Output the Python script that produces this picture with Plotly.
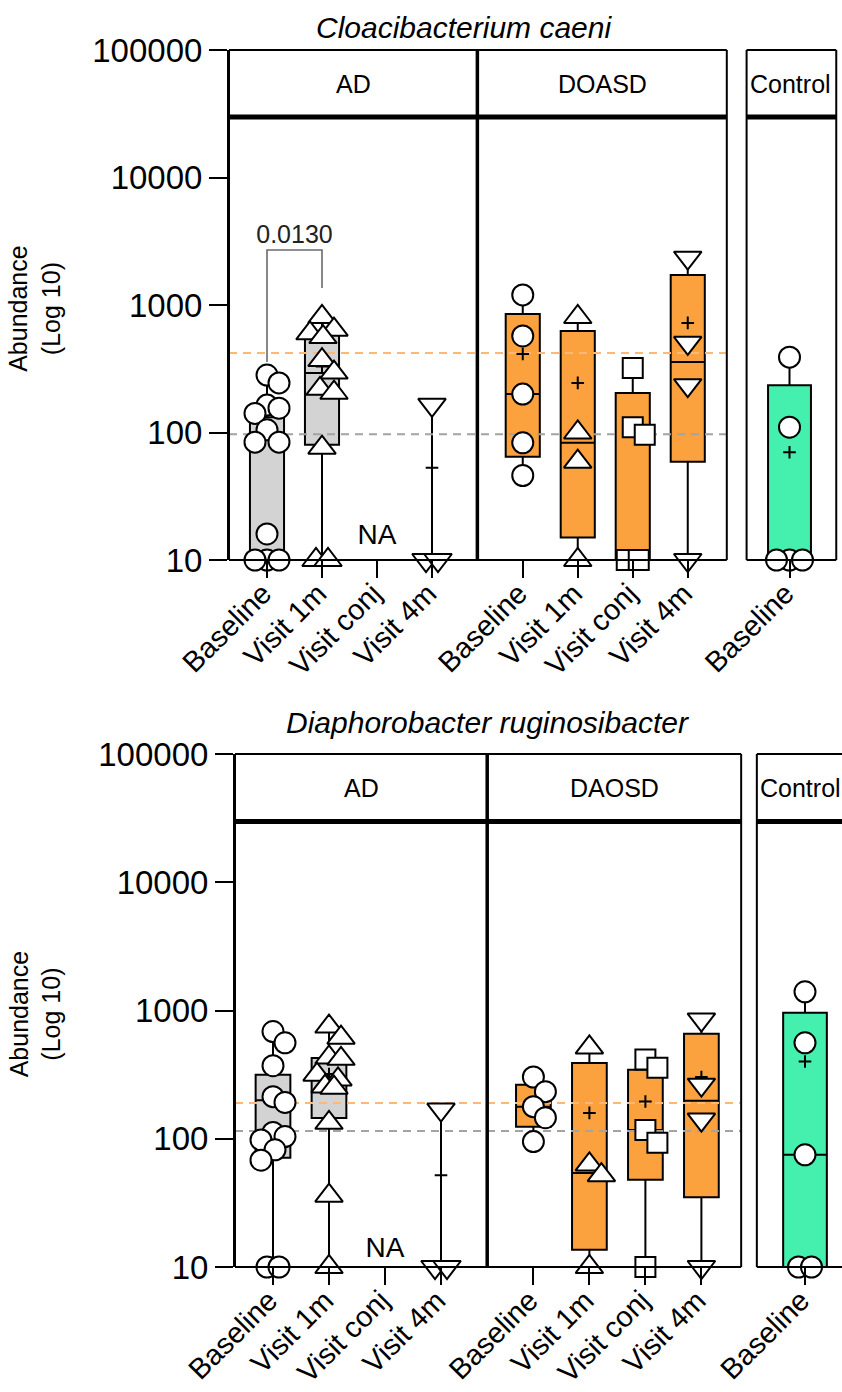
import numpy as np
import plotly.graph_objects as go

W, H = 842, 1392

# ---------------- data ----------------
visit_labels = ["Baseline", "Visit 1m", "Visit conj", "Visit 4m",
                "Baseline", "Visit 1m", "Visit conj", "Visit 4m",
                "Baseline"]
titles = ["Cloacibacterium caeni", "Diaphorobacter ruginosibacter"]
header_labels = [["AD", "DOASD", "Control"], ["AD", "DAOSD", "Control"]]

# Cloacibacterium caeni – individual values per slot (empty = NA)
cc_ad_base = [282, 245, 164, 155, 141, 105, 84, 84, 16, 10, 10, 10]
cc_ad_1m = [806, 640, 600, 560, 370, 295, 220, 205, 76, 10, 10]
cc_ad_conj = []
cc_ad_4m = [165, 10, 10]
cc_do_base = [1200, 572, 200, 83, 46]
cc_do_1m = [805, 100, 59, 10]
cc_do_conj = [321, 110, 96, 10, 10]
cc_do_4m = [2350, 505, 235, 10]
cc_ctrl_base = [390, 110, 10, 10, 10]

cc_q1 = [10, 80, None, 10, 64.5, 15, 10, 59, 10]
cc_median = [95, 293, None, 10, 200, 83, 10, 357, 10]
cc_q3 = [132, 582, None, 10, 850, 625, 204, 1720, 235]
cc_min = [10, 10, None, 10, 46, 10, 10, 10, 10]
cc_max = [282, 806, None, 165, 1200, 805, 321, 2350, 390]
cc_mean = [108, 330, None, 53, 413, 245, 105, 724, 70]
cc_ref_orange = 420
cc_ref_gray = 97
cc_pvalue = "0.0130"

# Diaphorobacter ruginosibacter
dr_ad_base = [685, 560, 371, 213, 192, 112, 104, 98, 82, 68, 10, 10]
dr_ad_1m = [750, 614, 430, 420, 316, 290, 255, 250, 133, 36, 10]
dr_ad_conj = []
dr_ad_4m = [169, 10, 10]
dr_do_base = [303, 233, 178, 146, 95]
dr_do_1m = [515, 63, 52, 10]
dr_do_conj = [415, 357, 117, 93, 10]
dr_do_4m = [850, 264, 141, 10]
dr_ctrl_base = [1400, 560, 75, 10, 10]

dr_q1 = [71, 145, None, 10, 124, 13.6, 48, 35, 10]
dr_median = [200, 300, None, 10, 178, 54, 117, 198, 75]
dr_q3 = [316, 427, None, 10, 264, 390, 345, 660, 960]
dr_min = [10, 10, None, 10, 95, 10, 10, 10, 10]
dr_max = [685, 750, None, 169, 303, 515, 415, 850, 1400]
dr_mean = [200, 320, None, 52, 191, 159, 195, 303, 400]
dr_ref_orange = 190
dr_ref_gray = 115

panels = [
    dict(points=[cc_ad_base, cc_ad_1m, cc_ad_conj, cc_ad_4m, cc_do_base,
                 cc_do_1m, cc_do_conj, cc_do_4m, cc_ctrl_base],
         q1=cc_q1, med=cc_median, q3=cc_q3, lo=cc_min, hi=cc_max, mean=cc_mean,
         ref_o=cc_ref_orange, ref_g=cc_ref_gray, pval=cc_pvalue,
         # layout in pixels
         axis_px=229, x0_px=267, unit=55, ybot=560, ytop=50,
         ctrl_left=8.72, title_xy=(464, 28)),
    dict(points=[dr_ad_base, dr_ad_1m, dr_ad_conj, dr_ad_4m, dr_do_base,
                 dr_do_1m, dr_do_conj, dr_do_4m, dr_ctrl_base],
         q1=dr_q1, med=dr_median, q3=dr_q3, lo=dr_min, hi=dr_max, mean=dr_mean,
         ref_o=dr_ref_orange, ref_g=dr_ref_gray, pval=None,
         axis_px=235, x0_px=273, unit=56, ybot=1267, ytop=754,
         ctrl_left=8.64, title_xy=(487, 722)),
]

# ---------------- styling ----------------
FONT = "Liberation Sans, Arial, sans-serif"
slot_x = [0, 1, 2, 3, 4.65, 5.65, 6.65, 7.65, 9.5]
slot_group = [0, 0, 0, 0, 1, 1, 1, 1, 2]
slot_symbol = ["circle", "triangle-up", "square", "triangle-down",
               "circle", "triangle-up", "square", "triangle-down", "circle"]
symbol_size = {"circle": 21, "triangle-up": 24, "square": 20, "triangle-down": 24}
group_fill = ["#D3D3D3", "#FBA23F", "#45EFAE"]
box_width = [0.62, 0.62, 0.78]
swarm_cap = [12, 12, 13]
SEP_X = 3.825
MAIN_RIGHT = 8.36
CTRL_RIGHT = 10.35
HEADER_LOG = 4.474


def swarm(vals, xc, unit_px, dec_px, diam, cap):
    """Deterministic beeswarm limited to +/-cap pixels; overlaps when crowded."""
    placed, offs = [], []
    mind = diam * 0.92
    cands = sorted(np.arange(-cap, cap + 0.01, 1.0), key=lambda c: (abs(c), -c))
    for v in vals:
        y = np.log10(v) * dec_px
        best, best_d = 0.0, -1.0
        for c in cands:
            d = min([np.hypot(c - px, y - py) for px, py in placed] or [1e9])
            if d >= mind:
                best = c
                break
            if d > best_d + 1e-9:
                best, best_d = c, d
        placed.append((best, y))
        offs.append(best)
    # centre groups of identical values
    vals_arr = np.array(vals, dtype=float)
    offs = np.array(offs)
    for v in np.unique(vals_arr):
        idx = np.where(vals_arr == v)[0]
        if len(idx) > 1:
            offs[idx] -= offs[idx].mean()
    return list(xc + offs / unit_px)


fig = go.Figure()
shapes, annotations = [], []
layout_axes = {}

for pi, P in enumerate(panels):
    xa = "x" if pi == 0 else "x2"
    ya = "y" if pi == 0 else "y2"
    unit = P["unit"]
    dec_px = (P["ybot"] - P["ytop"]) / 4.0
    xr = [(P["axis_px"] - P["x0_px"]) / unit, (W - P["x0_px"]) / unit]
    ydom = [1 - P["ybot"] / H, 1 - P["ytop"] / H]
    left = xr[0]
    ctrl_left = P["ctrl_left"]

    def yp(logv, ydom=ydom):
        return ydom[0] + (logv - 1) / 4.0 * (ydom[1] - ydom[0])

    # reference lines
    for val, col in [(P["ref_o"], "#FFB877"), (P["ref_g"], "#A3A3A3")]:
        fig.add_trace(go.Scatter(x=[left, MAIN_RIGHT], y=[val, val], mode="lines",
                                 line=dict(color=col, width=2, dash="8px,6px"),
                                 xaxis=xa, yaxis=ya, hoverinfo="skip", showlegend=False))

    # boxes and whiskers
    for k in range(9):
        if P["q1"][k] is None:
            continue
        g = slot_group[k]
        fig.add_trace(go.Box(x=[slot_x[k]], q1=[P["q1"][k]], median=[P["med"][k]],
                             q3=[P["q3"][k]], lowerfence=[P["lo"][k]],
                             upperfence=[P["hi"][k]], width=box_width[g],
                             fillcolor=group_fill[g], line=dict(color="black", width=2),
                             whiskerwidth=0, boxpoints=False, xaxis=xa, yaxis=ya,
                             showlegend=False, hoverinfo="skip"))
    # means
    mx = [slot_x[k] for k in range(9) if P["mean"][k] is not None]
    my = [P["mean"][k] for k in range(9) if P["mean"][k] is not None]
    fig.add_trace(go.Scatter(x=mx, y=my, mode="markers",
                             marker=dict(symbol="cross-thin", size=9,
                                         line=dict(color="black", width=2)),
                             xaxis=xa, yaxis=ya, showlegend=False, cliponaxis=False,
                             hoverinfo="skip"))
    # individual points
    for k in range(9):
        vals = P["points"][k]
        if not vals:
            continue
        sym = slot_symbol[k]
        xs = swarm(vals, slot_x[k], unit, dec_px, symbol_size[sym] - 1,
                   swarm_cap[slot_group[k]])
        fig.add_trace(go.Scatter(x=xs, y=vals, mode="markers",
                                 marker=dict(symbol=sym, size=symbol_size[sym], color="white",
                                             line=dict(color="black", width=2)),
                                 xaxis=xa, yaxis=ya, showlegend=False, cliponaxis=False,
                                 hoverinfo="skip"))

    # NA label for the empty AD slot
    na_val = 10 ** (1 + 23 / dec_px) if pi == 0 else 10 ** (1 + 17 / dec_px)
    fig.add_trace(go.Scatter(x=[slot_x[2]], y=[na_val], mode="text", text=["NA"],
                             textfont=dict(family=FONT, size=28, color="black"),
                             xaxis=xa, yaxis=ya, showlegend=False, cliponaxis=False,
                             hoverinfo="skip"))

    # significance bracket
    if P["pval"]:
        fig.add_trace(go.Scatter(x=[0, 0, 1, 1], y=[357, 2700, 2700, 1358], mode="lines",
                                 line=dict(color="#6A6A6A", width=1.6),
                                 xaxis=xa, yaxis=ya, showlegend=False, hoverinfo="skip"))
        fig.add_trace(go.Scatter(x=[0.5], y=[3450], mode="text", text=[P["pval"]],
                                 textfont=dict(family=FONT, size=25, color="#222"),
                                 xaxis=xa, yaxis=ya, showlegend=False, cliponaxis=False,
                                 hoverinfo="skip"))

    # frames
    def line(x0, y0, x1, y1, w):
        shapes.append(dict(type="line", xref=xa, yref="paper", x0=x0, x1=x1,
                           y0=yp(y0), y1=yp(y1), line=dict(color="black", width=w)))

    for (l, r) in [(left, MAIN_RIGHT), (ctrl_left, CTRL_RIGHT)]:
        line(l, 5, r, 5, 2)
        line(l, 1, r, 1, 2)
        line(l, 1, l, 5, 2)
        line(r, 1, r, 5, 2)
        line(l, HEADER_LOG, r, HEADER_LOG, 5)
    line(SEP_X, 1, SEP_X, 5, 3.5)

    hdr_y = yp((5 + HEADER_LOG) / 2)
    hdr_font = dict(family=FONT, size=25, color="black")
    for label, cx in zip(header_labels[pi][:2], [(left + SEP_X) / 2, (SEP_X + MAIN_RIGHT) / 2]):
        annotations.append(dict(x=cx, y=hdr_y, xref=xa, yref="paper", text=label,
                                showarrow=False, font=hdr_font,
                                xanchor="center", yanchor="middle"))
    annotations.append(dict(x=ctrl_left, y=hdr_y, xref=xa, yref="paper",
                            text=header_labels[pi][2], showarrow=False, font=hdr_font,
                            xanchor="left", yanchor="middle", xshift=1))

    # panel title and y-axis title
    tx, ty = P["title_xy"]
    annotations.append(dict(x=tx / W, y=1 - ty / H, xref="paper", yref="paper",
                            text="<i>%s</i>" % titles[pi], showarrow=False,
                            font=dict(family=FONT, size=30, color="black"),
                            xanchor="center", yanchor="middle"))
    annotations.append(dict(x=35 / W, y=yp(3.0 - 0.03), xref="paper", yref="paper",
                            text="Abundance<br>(Log 10)", showarrow=False, textangle=-90,
                            font=dict(family=FONT, size=25, color="black"),
                            xanchor="center", yanchor="middle"))

    xkey = "xaxis" if pi == 0 else "xaxis2"
    ykey = "yaxis" if pi == 0 else "yaxis2"
    layout_axes[xkey] = dict(domain=[P["axis_px"] / W, 1.0], range=xr, anchor=ya,
                             automargin=False,
                             showgrid=False, zeroline=False, showline=False,
                             tickmode="array", tickvals=slot_x, ticktext=visit_labels,
                             ticks="outside", ticklen=17, tickwidth=2, tickcolor="black",
                             ticklabelstandoff=-13, ticklabelshift=-4,
                             tickangle=-45, tickfont=dict(family=FONT, size=29, color="black"))
    layout_axes[ykey] = dict(domain=ydom, type="log", range=[1, 5], anchor=xa,
                             automargin=False,
                             showgrid=False, zeroline=False, showline=True,
                             linecolor="black", linewidth=2,
                             tickmode="array", tickvals=[10, 100, 1000, 10000, 100000],
                             ticktext=["10", "100", "1000", "10000", "100000"],
                             ticks="outside", ticklen=18, tickwidth=2, tickcolor="black",
                             tickfont=dict(family=FONT, size=33, color="black"))

fig.update_layout(width=W, height=H,
                  margin=dict(l=0, r=0, t=0, b=0, pad=0, autoexpand=False),
                  paper_bgcolor="white", plot_bgcolor="white", boxmode="overlay",
                  showlegend=False, shapes=shapes, annotations=annotations,
                  **layout_axes)

fig.write_html("out.html")
